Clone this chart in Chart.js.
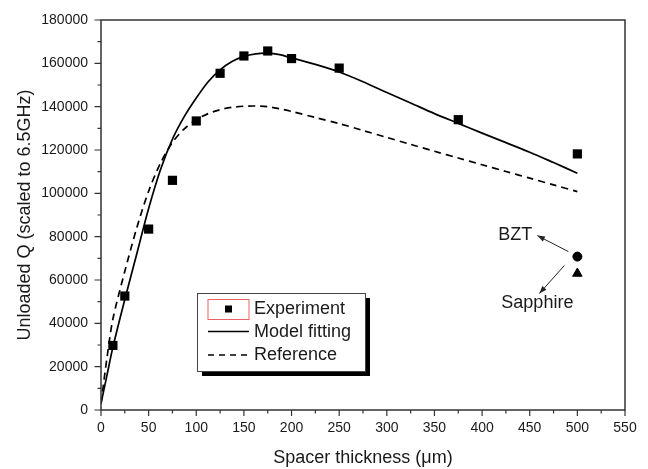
<!DOCTYPE html>
<html>
<head>
<meta charset="utf-8">
<script src="https://cdn.jsdelivr.net/npm/chart.js@4/dist/chart.umd.min.js"></script>
<style>
  html, body { margin: 0; padding: 0; background: #fff; }
  #wrap { width: 648px; height: 469px; }
</style>
</head>
<body>
<div id="wrap"><canvas id="myChart" width="648" height="469"></canvas></div>
<script>
// measured points (um, unloaded Q)
var thickness = [12.5, 25, 50, 75, 100, 125, 150, 175, 200, 250, 375, 500];
var qExperiment = [29800, 52600, 83500, 106000, 133400, 155400, 163400, 165700, 162200, 157800, 134000, 118200];

// curves
var fitThickness = [0, 6.25, 12.5, 25, 37.5, 50, 62.5, 75, 87.5, 100, 112.5, 125, 137.5, 150, 162.5, 175, 187.5, 200, 225, 250, 275, 300, 325, 350, 375, 400, 425, 450, 475, 500];
var qModel = [3000, 16000, 29000, 51000, 72000, 93000, 111000, 125000, 135500, 144000, 151500, 157000, 160800, 163200, 164400, 164700, 164000, 162500, 159500, 156000, 151500, 146500, 141700, 136800, 132300, 127800, 123400, 119000, 114200, 109300];
var qReference = [3000, 24000, 42000, 64000, 84000, 101000, 114000, 123500, 129800, 134000, 136800, 138600, 139700, 140200, 140300, 140000, 139000, 137800, 135000, 132200, 129000, 125800, 122600, 119400, 116300, 113200, 110100, 107000, 103900, 100800];

// single substrate points
var bztPoint = [500, 70800];
var sapphirePoint = [500, 63000];

var xTicks = [0, 50, 100, 150, 200, 250, 300, 350, 400, 450, 500, 550];
var yTicks = [0, 20000, 40000, 60000, 80000, 100000, 120000, 140000, 160000, 180000];

var FONT = "'Liberation Sans', Arial, sans-serif";
var INK = '#1a1a1a';

function toXY(xs, ys) {
	return xs.map(function (x, i) { return { x: x, y: ys[i] }; });
}

// frame + outward ticks (major and minor)
var framePlugin = {
	id: 'frame',
	afterDraw: function (chart) {
		var ctx = chart.ctx;
		var a = chart.chartArea;
		var xs = chart.scales.x, ys = chart.scales.y;
		ctx.save();
		ctx.strokeStyle = '#333';
		ctx.lineWidth = 1.5;
		ctx.strokeRect(a.left, a.top, a.right - a.left, a.bottom - a.top);
		ctx.lineWidth = 1.2;
		ctx.beginPath();
		for (var v = 0; v <= 550; v += 25) {
			var px = xs.getPixelForValue(v);
			var len = (v % 50 === 0) ? 6 : 3.5;
			ctx.moveTo(px, a.bottom);
			ctx.lineTo(px, a.bottom + len);
		}
		for (var w = 0; w <= 180000; w += 10000) {
			var py = ys.getPixelForValue(w);
			var l2 = (w % 20000 === 0) ? 6.5 : 3.5;
			ctx.moveTo(a.left, py);
			ctx.lineTo(a.left - l2, py);
		}
		ctx.stroke();
		ctx.restore();
	}
};

// legend box with shadow
var legendPlugin = {
	id: 'boxLegend',
	afterDraw: function (chart) {
		var ctx = chart.ctx;
		var bx = 197, by = 293, bw = 168, bh = 78;
		ctx.save();
		ctx.fillStyle = '#000';
		ctx.fillRect(bx + 5, by + 5, bw, bh);
		ctx.fillStyle = '#fff';
		ctx.fillRect(bx, by, bw, bh);
		ctx.strokeStyle = '#444';
		ctx.lineWidth = 1;
		ctx.strokeRect(bx + 0.5, by + 0.5, bw, bh);

		// Experiment
		ctx.strokeStyle = '#f06060';
		ctx.strokeRect(208, 299.5, 41, 20);
		ctx.fillStyle = '#000';
		ctx.fillRect(225, 305.5, 7, 7);
		// Model fitting
		ctx.strokeStyle = '#000';
		ctx.lineWidth = 1.5;
		ctx.beginPath();
		ctx.moveTo(208, 331.5);
		ctx.lineTo(249, 331.5);
		ctx.stroke();
		// Reference
		ctx.setLineDash([6, 5]);
		ctx.beginPath();
		ctx.moveTo(208, 355);
		ctx.lineTo(251, 355);
		ctx.stroke();
		ctx.setLineDash([]);

		ctx.fillStyle = INK;
		ctx.font = '18px ' + FONT;
		ctx.textBaseline = 'middle';
		ctx.textAlign = 'left';
		ctx.fillText('Experiment', 254, 309);
		ctx.fillText('Model fitting', 254, 332);
		ctx.fillText('Reference', 254, 355.5);
		ctx.restore();
	}
};

function arrow(ctx, x1, y1, x2, y2) {
	var ang = Math.atan2(y2 - y1, x2 - x1);
	ctx.beginPath();
	ctx.moveTo(x1, y1);
	ctx.lineTo(x2, y2);
	ctx.stroke();
	ctx.beginPath();
	ctx.moveTo(x2, y2);
	ctx.lineTo(x2 - 8 * Math.cos(ang - 0.35), y2 - 8 * Math.sin(ang - 0.35));
	ctx.lineTo(x2 - 8 * Math.cos(ang + 0.35), y2 - 8 * Math.sin(ang + 0.35));
	ctx.closePath();
	ctx.fill();
}

// BZT / Sapphire labels, anchored on their points
var notePlugin = {
	id: 'notes',
	afterDraw: function (chart) {
		var ctx = chart.ctx;
		var xs = chart.scales.x, ys = chart.scales.y;
		var bx = xs.getPixelForValue(bztPoint[0]), byy = ys.getPixelForValue(bztPoint[1]);
		var sx = xs.getPixelForValue(sapphirePoint[0]), sy = ys.getPixelForValue(sapphirePoint[1]);
		ctx.save();
		ctx.strokeStyle = '#222';
		ctx.fillStyle = '#222';
		ctx.lineWidth = 1;
		arrow(ctx, bx - 9, byy - 5, bx - 40, byy - 21);
		arrow(ctx, sx - 13, sy - 8, sx - 38, sy + 20);
		ctx.fillStyle = INK;
		ctx.font = '18px ' + FONT;
		ctx.textAlign = 'center';
		ctx.textBaseline = 'middle';
		ctx.fillText('BZT', bx - 62, byy - 22);
		ctx.fillText('Sapphire', sx - 40, sy + 30);
		ctx.restore();
	}
};

var ctx = document.getElementById('myChart').getContext('2d');
var myChart = new Chart(ctx, {
	type: 'scatter',
	data: {
		datasets: [
			{
				label: 'Experiment',
				data: toXY(thickness, qExperiment),
				pointStyle: 'rect',
				pointRadius: 6.5,
				backgroundColor: '#000',
				borderColor: '#000',
				borderWidth: 0,
				order: 0
			},
			{
				label: 'Model fitting',
				data: toXY(fitThickness, qModel),
				showLine: true,
				tension: 0.3,
				borderColor: '#000',
				borderWidth: 1.7,
				pointRadius: 0,
				order: 2
			},
			{
				label: 'Reference',
				data: toXY(fitThickness, qReference),
				showLine: true,
				tension: 0.3,
				borderColor: '#000',
				borderWidth: 1.7,
				borderDash: [7, 5],
				pointRadius: 0,
				order: 3
			},
			{
				label: 'BZT',
				data: [{ x: bztPoint[0], y: bztPoint[1] }],
				pointStyle: 'circle',
				pointRadius: 4.5,
				backgroundColor: '#000',
				borderColor: '#000',
				order: 0
			},
			{
				label: 'Sapphire',
				data: [{ x: sapphirePoint[0], y: sapphirePoint[1] }],
				pointStyle: 'triangle',
				pointRadius: 5.5,
				backgroundColor: '#000',
				borderColor: '#000',
				order: 0
			}
		]
	},
	options: {
		responsive: false,
		animation: false,
		devicePixelRatio: 1,
		layout: { padding: { left: 0, right: 23, top: 20, bottom: 0 } },
		plugins: {
			legend: { display: false },
			tooltip: { enabled: false }
		},
		scales: {
			x: {
				type: 'linear',
				min: 0,
				max: 550,
				afterBuildTicks: function (scale) {
					scale.ticks = xTicks.map(function (v) { return { value: v }; });
				},
				afterFit: function (scale) { scale.height = 59; },
				grid: { display: false, drawTicks: true, tickLength: 6 },
				border: { display: false },
				ticks: {
					color: INK,
					padding: 4,
					maxRotation: 0,
					font: { family: FONT, size: 14 }
				},
				title: {
					display: true,
					text: 'Spacer thickness (\u03bcm)',
					color: INK,
					font: { family: FONT, size: 18 },
					padding: { top: 0, bottom: 0 }
				}
			},
			y: {
				type: 'linear',
				min: 0,
				max: 180000,
				afterBuildTicks: function (scale) {
					scale.ticks = yTicks.map(function (v) { return { value: v }; });
				},
				afterFit: function (scale) { scale.width = 101; },
				grid: { display: false, drawTicks: true, tickLength: 6 },
				border: { display: false },
				ticks: {
					color: INK,
					padding: 7,
					font: { family: FONT, size: 14 },
					callback: function (value) { return String(value); }
				},
				title: {
					display: true,
					text: 'Unloaded Q (scaled to 6.5GHz)',
					color: INK,
					font: { family: FONT, size: 18 },
					padding: { top: 14, bottom: 0 }
				}
			}
		}
	},
	plugins: [framePlugin, legendPlugin, notePlugin]
});
</script>
</body>
</html>
